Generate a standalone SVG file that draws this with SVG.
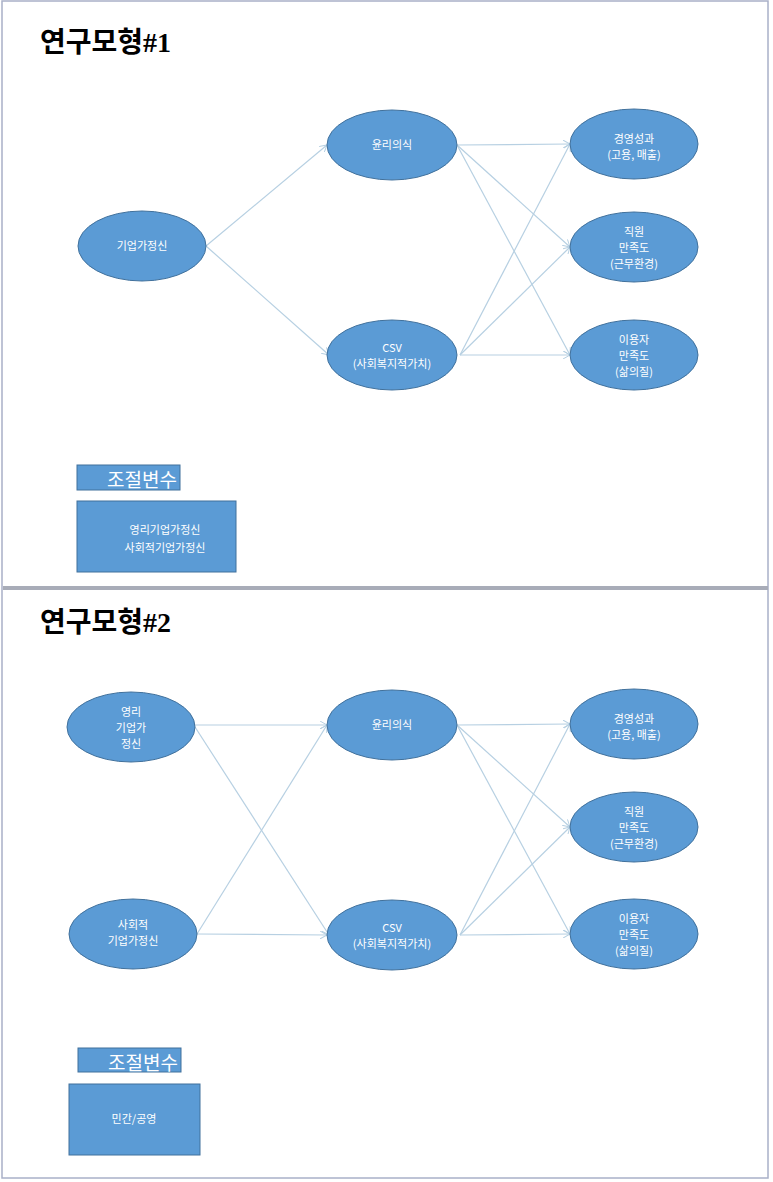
<svg xmlns="http://www.w3.org/2000/svg" width="773" height="1182" viewBox="0 0 773 1182">
<style>
.n{fill:#5b9bd5;stroke:#41719c;stroke-width:1}
.t{font-family:"Noto Sans CJK KR","Liberation Sans",sans-serif;font-size:11px;fill:#fff;text-anchor:middle}
.h{font-family:"Liberation Serif","Noto Sans CJK KR",serif;font-size:28px;font-weight:bold;fill:#000}
.c line{stroke:#b7d0e2;stroke-width:1.2;marker-end:url(#a)}
.m{font-family:"Noto Sans CJK KR","Liberation Sans",sans-serif;font-size:19px;fill:#fff;text-anchor:middle}
</style>
<defs><marker id="a" markerWidth="8" markerHeight="8" refX="7" refY="4" orient="auto" markerUnits="userSpaceOnUse"><path d="M0,0 L7,4 L0,8" fill="none" stroke="#b7d0e2"/></marker></defs>
<rect x="2" y="1" width="766" height="1177" fill="#fff" stroke="#a9b0c8" stroke-width="1.5"/>
<line x1="3" y1="588" x2="768" y2="588" stroke="#a8acb8" stroke-width="4"/>
<text class="h" x="40" y="52">연구모형#1</text>
<text class="h" x="40" y="632">연구모형#2</text>
<g class="c" id="connectors">
<line x1="206" y1="246" x2="327" y2="145"/>
<line x1="206" y1="246" x2="329" y2="355"/>
<line x1="457" y1="145" x2="570" y2="144"/>
<line x1="457" y1="145" x2="570" y2="247"/>
<line x1="457" y1="145" x2="570" y2="355"/>
<line x1="460" y1="355" x2="570" y2="144"/>
<line x1="460" y1="355" x2="570" y2="247"/>
<line x1="460" y1="355" x2="570" y2="355"/>
<line x1="195" y1="725" x2="327" y2="725"/>
<line x1="195" y1="727" x2="329" y2="935"/>
<line x1="197" y1="934" x2="327" y2="725"/>
<line x1="197" y1="934" x2="327" y2="935"/>
<line x1="457" y1="725" x2="570" y2="724"/>
<line x1="457" y1="725" x2="570" y2="827"/>
<line x1="457" y1="725" x2="570" y2="934"/>
<line x1="460" y1="935" x2="570" y2="724"/>
<line x1="460" y1="935" x2="570" y2="827"/>
<line x1="460" y1="935" x2="570" y2="934"/>
</g>
<g id="n1"><ellipse class="n" cx="142" cy="246" rx="64" ry="35"/><text class="t" x="142" y="250">기업가정신</text></g>
<g id="n2"><ellipse class="n" cx="392" cy="145" rx="65" ry="35"/><text class="t" x="392" y="149">윤리의식</text></g>
<g id="n3"><ellipse class="n" cx="392" cy="355" rx="65" ry="35"/><text class="t" x="392" y="352">CSV</text><text class="t" x="392" y="368">(사회복지적가치)</text></g>
<g id="n4"><ellipse class="n" cx="634" cy="144" rx="64" ry="35"/><text class="t" x="634" y="143">경영성과</text><text class="t" x="634" y="159">(고용, 매출)</text></g>
<g id="n5"><ellipse class="n" cx="634" cy="247" rx="64" ry="35"/><text class="t" x="634" y="236">직원</text><text class="t" x="634" y="252">만족도</text><text class="t" x="634" y="268">(근무환경)</text></g>
<g id="n6"><ellipse class="n" cx="634" cy="355" rx="64" ry="35"/><text class="t" x="634" y="344">이용자</text><text class="t" x="634" y="360">만족도</text><text class="t" x="634" y="376">(삶의질)</text></g>
<g id="m1"><rect class="n" x="77" y="465" width="103" height="25" stroke="#2f3f50"/><text class="m" x="142" y="487">조절변수</text></g>
<g id="m1b"><rect class="n" x="77" y="501" width="159" height="71" stroke="#2f3f50"/><text class="t" x="165" y="534">영리기업가정신</text><text class="t" x="165" y="552">사회적기업가정신</text></g>
<g id="p1"><ellipse class="n" cx="131" cy="727" rx="64" ry="35"/><text class="t" x="131" y="716">영리</text><text class="t" x="131" y="732">기업가</text><text class="t" x="131" y="748">정신</text></g>
<g id="p2"><ellipse class="n" cx="133" cy="934" rx="64" ry="35"/><text class="t" x="133" y="929">사회적</text><text class="t" x="133" y="945">기업가정신</text></g>
<g id="p3"><ellipse class="n" cx="392" cy="725" rx="65" ry="35"/><text class="t" x="392" y="729">윤리의식</text></g>
<g id="p4"><ellipse class="n" cx="392" cy="935" rx="65" ry="35"/><text class="t" x="392" y="932">CSV</text><text class="t" x="392" y="948">(사회복지적가치)</text></g>
<g id="p5"><ellipse class="n" cx="634" cy="724" rx="64" ry="35"/><text class="t" x="634" y="723">경영성과</text><text class="t" x="634" y="739">(고용, 매출)</text></g>
<g id="p6"><ellipse class="n" cx="634" cy="827" rx="64" ry="35"/><text class="t" x="634" y="816">직원</text><text class="t" x="634" y="832">만족도</text><text class="t" x="634" y="848">(근무환경)</text></g>
<g id="p7"><ellipse class="n" cx="634" cy="934" rx="64" ry="35"/><text class="t" x="634" y="923">이용자</text><text class="t" x="634" y="939">만족도</text><text class="t" x="634" y="955">(삶의질)</text></g>
<g id="m2"><rect class="n" x="78" y="1048" width="103" height="24" stroke="#2f3f50"/><text class="m" x="143" y="1070">조절변수</text></g>
<g id="m2b"><rect class="n" x="69" y="1084" width="131" height="71" stroke="#2f3f50"/><text class="t" x="134" y="1123">민간/공영</text></g>
</svg>
